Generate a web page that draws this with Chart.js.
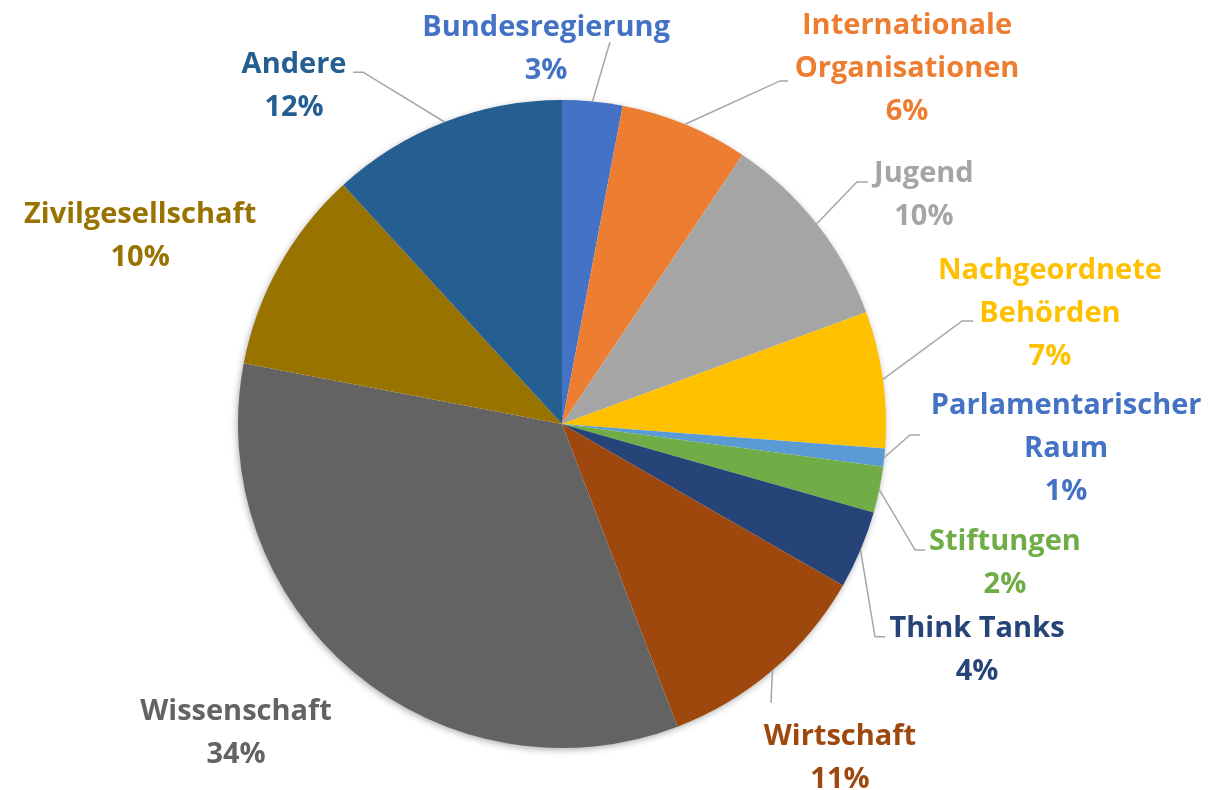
<!DOCTYPE html>
<html>
<head>
<meta charset="utf-8">
<script src="https://cdn.jsdelivr.net/npm/chart.js@4.4.0/dist/chart.umd.min.js"></script>
<style>
  html, body { margin: 0; padding: 0; background: #ffffff; }
  #wrap { width: 1228px; height: 790px; position: relative; }
</style>
</head>
<body>
<div id="wrap"><canvas id="chart_pie"></canvas></div>
<script>
// categories, clockwise from 12 o'clock
var categories = [
  'Bundesregierung', 'Internationale Organisationen', 'Jugend', 'Nachgeordnete Behörden',
  'Parlamentarischer Raum', 'Stiftungen', 'Think Tanks', 'Wirtschaft',
  'Wissenschaft', 'Zivilgesellschaft', 'Andere'
];
// label text as it is wrapped in the picture
var labelLines = [
  ['Bundesregierung'], ['Internationale', 'Organisationen'], ['Jugend'], ['Nachgeordnete', 'Behörden'],
  ['Parlamentarischer', 'Raum'], ['Stiftungen'], ['Think Tanks'], ['Wirtschaft'],
  ['Wissenschaft'], ['Zivilgesellschaft'], ['Andere']
];
// shares in percent
var shares = [3.0, 6.4, 10.0, 6.8, 0.9, 2.3, 3.9, 10.9, 33.8, 10.2, 11.8];

var colors = [
  '#4472C4', '#ED7D31', '#A5A5A5', '#FFC000', '#5B9BD5', '#70AD47',
  '#264478', '#9E480E', '#636363', '#997300', '#255E91'
];
var labelColors = colors.slice();
labelColors[4] = '#4472C4';

// label placement, in units of the pie radius from its centre
// pos = middle of first text line, elbow = where the leader line bends, tail = horizontal stub in px
var labelLayout = [
  { pos: [-0.049, -1.231], elbow: [0.148, -1.179], tail: 0 },
  { pos: [1.065, -1.238], elbow: [0.673, -1.059], tail: 8 },
  { pos: [1.117, -0.781], elbow: [0.910, -0.747], tail: 11 },
  { pos: [1.506, -0.481], elbow: [1.235, -0.318], tail: 11 },
  { pos: [1.556, -0.065], elbow: [1.074, 0.034], tail: 10 },
  { pos: [1.367, 0.355], elbow: [1.090, 0.389], tail: 10 },
  { pos: [1.281, 0.623], elbow: [0.966, 0.657], tail: 10 },
  { pos: [0.858, 0.957], elbow: [0.645, 0.861], tail: 0 },
  { pos: [-1.006, 0.880], elbow: null, tail: 0 },
  { pos: [-1.302, -0.654], elbow: null, tail: 0 },
  { pos: [-0.827, -1.117], elbow: [-0.614, -1.086], tail: -10 }
];

var total = shares.reduce(function (a, b) { return a + b; }, 0);

var pieLabels = {
  id: 'pieLabels',
  beforeDatasetsDraw: function (chart) {
    var arc = chart.getDatasetMeta(0).data[0];
    if (!arc) return;
    var ctx = chart.ctx;
    ctx.save();
    ctx.shadowColor = 'rgba(0,0,0,0.35)';
    ctx.shadowBlur = 7;
    ctx.shadowOffsetX = -1;
    ctx.shadowOffsetY = 2;
    ctx.fillStyle = '#ffffff';
    ctx.beginPath();
    ctx.arc(arc.x, arc.y, arc.outerRadius - 0.5, 0, Math.PI * 2);
    ctx.fill();
    ctx.restore();
  },
  afterDatasetsDraw: function (chart) {
    var ctx = chart.ctx;
    var arcs = chart.getDatasetMeta(0).data;
    ctx.save();
    arcs.forEach(function (a, i) {
      var lay = labelLayout[i];
      var r = a.outerRadius, cx = a.x, cy = a.y;
      var mid = (a.startAngle + a.endAngle) / 2;
      if (lay.elbow) {
        var ex = cx + lay.elbow[0] * r, ey = cy + lay.elbow[1] * r;
        ctx.strokeStyle = '#A6A6A6';
        ctx.lineWidth = 1.5;
        ctx.beginPath();
        ctx.moveTo(cx + Math.cos(mid) * r, cy + Math.sin(mid) * r);
        ctx.lineTo(ex, ey);
        if (lay.tail) ctx.lineTo(ex + lay.tail, ey);
        ctx.stroke();
      }
      var lines = labelLines[i].concat([Math.round(shares[i] / total * 100) + '%']);
      ctx.fillStyle = labelColors[i];
      ctx.font = 'bold 29px "Open Sans"';
      ctx.textAlign = 'center';
      ctx.textBaseline = 'middle';
      var x = cx + lay.pos[0] * r, y = cy + lay.pos[1] * r + 3;
      lines.forEach(function (t, k) {
        ctx.fillText(t, x, y + k * 43);
      });
    });
    ctx.restore();
  }
};

var chart_pie = new Chart(document.getElementById('chart_pie'), {
  type: 'pie',
  data: {
    labels: categories,
    datasets: [{
      data: shares,
      backgroundColor: colors,
      borderWidth: 0
    }]
  },
  options: {
    animation: false,
    responsive: true,
    maintainAspectRatio: false,
    layout: { padding: { top: 100, bottom: 42, left: 0, right: 104 } },
    plugins: {
      legend: { display: false },
      tooltip: { enabled: false }
    }
  },
  plugins: [pieLabels]
});
</script>
</body>
</html>
